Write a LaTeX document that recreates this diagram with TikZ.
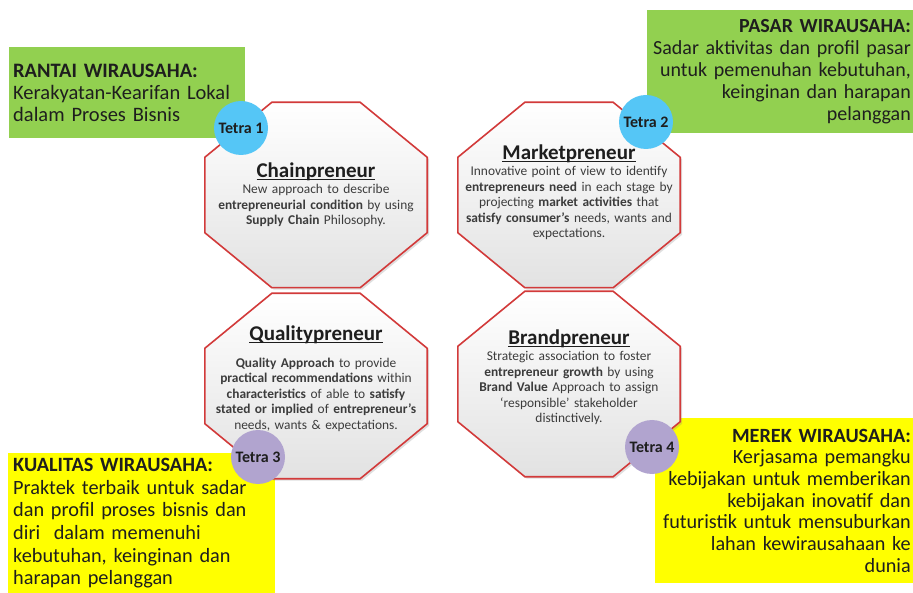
\documentclass[tikz,border=0pt]{standalone}
\usepackage{fontspec}
\setmainfont{Carlito}
\usetikzlibrary{calc,backgrounds,shadows}
\definecolor{cGreen}{HTML}{92D050}
\definecolor{cYellow}{HTML}{FFFF00}
\definecolor{cRed}{HTML}{D23A3A}
\definecolor{cSky}{HTML}{55C6F6}
\definecolor{cLilac}{HTML}{B1A4CF}
\definecolor{cInk}{HTML}{1E1E1E}
\definecolor{cBody}{HTML}{3C3C3C}
\definecolor{cShade}{HTML}{E2E2E2}
\newcommand{\octitle}[2][0pt]{{\fontsize{21pt}{22pt}\selectfont\bfseries\color{cInk}\rule{0pt}{#1}\underline{\smash{#2}}}}

\begin{document}
\begin{tikzpicture}[x=1pt,y=-1pt,
  note/.style 2 args={text=cInk,inner ysep=0pt,font=\fontsize{#1}{#2}\selectfont},
  octbox/.style={minimum width=222pt,minimum height=185pt,text width=216pt,
                 align=center,inner sep=0pt,text=cBody,
                 font=\fontsize{13.4pt}{15.5pt}\selectfont},
  octa/.style={draw=cRed,line width=1.6pt,top color=white,bottom color=cShade,
               drop shadow={opacity=0.25,shadow xshift=2pt,shadow yshift=-2pt}},
  tetra/.style={circle,minimum size=54pt,inner sep=0pt,text=cInk,
                font=\fontsize{16pt}{18pt}\selectfont\bfseries}]

\useasboundingbox (0,0) rectangle (913,593);

\begin{scope}[on background layer]
\fill[white] (0,0) rectangle (913,593);
\node[note={20.5pt}{22pt},fill=cGreen,anchor=north west,inner xsep=4pt,minimum height=91pt,
      text width=228pt,align=left] (rantai) at (9,47)
  {\textbf{RANTAI WIRAUSAHA:}\\Kerakyatan-Kearifan Lokal\\dalam Proses Bisnis};
\node[note={20pt}{22pt},fill=cGreen,anchor=north east,inner xsep=2pt,minimum height=123pt,
      text width=262pt,align=right] (pasar) at (913,10)
  {\textbf{PASAR WIRAUSAHA:}\\Sadar aktivitas dan profil pasar\\untuk pemenuhan kebutuhan,\\keinginan dan harapan\\pelanggan};
\node[note={20.3pt}{22.7pt},fill=cYellow,anchor=north west,inner xsep=5pt,minimum height=140pt,
      text width=257pt,align=left] (kualitas) at (8,453)
  {\textbf{KUALITAS WIRAUSAHA:}\\Praktek terbaik untuk sadar\\dan profil proses bisnis dan\\diri \ dalam memenuhi\\kebutuhan, keinginan dan\\harapan pelanggan};
\node[note={20.2pt}{21.7pt},fill=cYellow,anchor=north east,inner xsep=2pt,minimum height=165pt,
      text width=254pt,align=right] (merek) at (913,418)
  {\textbf{MEREK WIRAUSAHA:}\\Kerjasama pemangku\\kebijakan untuk memberikan\\kebijakan inovatif dan\\futuristik untuk mensuburkan\\lahan kewirausahaan ke\\dunia};
\end{scope}

\node[octbox] (chain) at (316,195)
  {\octitle[15pt]{Chainpreneur}\\[0.5pt]
   New approach to describe\\
   \textbf{entrepreneurial condition} by using\\
   \textbf{Supply Chain} Philosophy.};
\node[octbox] (market) at (569,195)
  {\octitle[10pt]{Marketpreneur}\\[0.5pt]
   Innovative point of view to identify\\
   \textbf{entrepreneurs need} in each stage by\\
   projecting \textbf{market activities} that\\
   \textbf{satisfy consumer's} needs, wants and\\
   expectations.};
\node[octbox] (quality) at (316,386)
  {\octitle{Qualitypreneur}\\[11pt]
   \textbf{Quality Approach} to provide\\
   \textbf{practical recommendations} within\\
   \textbf{characteristics} of able to \textbf{satisfy}\\
   \textbf{stated or implied} of \textbf{entrepreneur's}\\
   needs, wants \& expectations.};
\node[octbox] (brand) at (569,384)
  {\octitle[2pt]{Brandpreneur}\\[0.5pt]
   Strategic association to foster\\
   \textbf{entrepreneur growth} by using\\
   \textbf{Brand Value} Approach to assign\\
   `responsible' stakeholder\\
   distinctively.};

\begin{scope}[on background layer]
\foreach \n in {chain,market,quality,brand}
  \draw[octa] ($(\n.north west)+(67,0)$) -- ($(\n.north east)+(-67,0)$)
    -- ($(\n.north east)+(0,55)$) -- ($(\n.south east)+(0,-55)$)
    -- ($(\n.south east)+(-67,0)$) -- ($(\n.south west)+(67,0)$)
    -- ($(\n.south west)+(0,-55)$) -- ($(\n.north west)+(0,55)$) -- cycle;
\end{scope}

\node[tetra,fill=cSky] (t1) at (241,128) {Tetra 1};
\node[tetra,fill=cSky] (t2) at (646,122) {Tetra 2};
\node[tetra,fill=cLilac] (t3) at (258,457) {Tetra 3};
\node[tetra,fill=cLilac] (t4) at (652,447) {Tetra 4};
\end{tikzpicture}
\end{document}
